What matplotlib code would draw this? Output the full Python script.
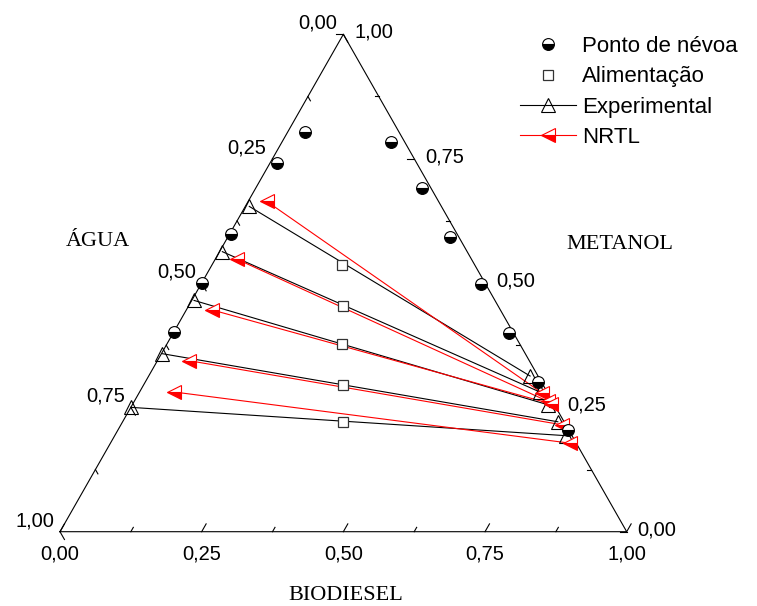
import numpy as np
import matplotlib
matplotlib.use("Agg")
import matplotlib.pyplot as plt
from matplotlib.lines import Line2D
from matplotlib.transforms import offset_copy

# Mass fractions; water = 1 - biodiesel - metanol
cloud_biodiesel = [0.030, 0.012, 0.002, 0.001, 0.000,
                   0.193, 0.294, 0.392, 0.494, 0.593, 0.693, 0.794]
cloud_metanol = [0.804, 0.741, 0.598, 0.500, 0.401,
                 0.783, 0.690, 0.593, 0.498, 0.399, 0.301, 0.205]

feed_biodiesel = [0.230, 0.272, 0.310, 0.352, 0.389]
feed_metanol = [0.537, 0.454, 0.377, 0.295, 0.221]

# Experimental tie lines: aqueous phase / biodiesel phase
exp_aq_biodiesel = [0.007, 0.005, 0.004, 0.001, 0.000]
exp_aq_metanol = [0.654, 0.563, 0.465, 0.358, 0.250]
exp_org_biodiesel = [0.673, 0.706, 0.734, 0.768, 0.797]
exp_org_metanol = [0.313, 0.281, 0.255, 0.221, 0.193]

# NRTL tie lines
nrtl_aq_biodiesel = [0.033, 0.038, 0.045, 0.055, 0.060]
nrtl_aq_metanol = [0.664, 0.548, 0.446, 0.344, 0.281]
nrtl_org_biodiesel = [0.711, 0.730, 0.738, 0.778, 0.811]
nrtl_org_metanol = [0.279, 0.262, 0.257, 0.215, 0.178]

tick_values = [0.0, 0.125, 0.25, 0.375, 0.5, 0.625, 0.75, 0.875, 1.0]
tick_labels = {0.0: "0,00", 0.25: "0,25", 0.5: "0,50", 0.75: "0,75", 1.0: "1,00"}

W, H = 757, 606
PX_X, PX_Y = 566.7, 497.4  # triangle size in pixels

plt.rcParams['font.family'] = ['Liberation Sans', 'DejaVu Sans']
fig = plt.figure(figsize=(W / 100, H / 100), dpi=100)
ax = fig.add_axes([60 / W, (H - 531.7) / H, PX_X / W, PX_Y / H])
ax.set_xlim(0, 1)
ax.set_ylim(0, 1)
ax.axis('off')


def tern(b, m):
    b = np.asarray(b, float)
    m = np.asarray(m, float)
    return b + m / 2, m


# triangle frame
ax.plot([0, 1, 0.5, 0], [0, 0, 1, 0], color='k', lw=0.8, clip_on=False,
        solid_joinstyle='miter')

# edge directions in pixel space (unit vectors)
left_dir = np.array([PX_X * 0.5, PX_Y]) / np.hypot(PX_X * 0.5, PX_Y)
right_down = np.array([PX_X * 0.5, -PX_Y]) / np.hypot(PX_X * 0.5, PX_Y)

tick_kw = dict(color='k', lw=0.8, clip_on=False)
for t in tick_values:
    L = 9 if t in tick_labels else 5
    # bottom axis (biodiesel), ticks parallel to the left edge
    x0, y0 = t, 0.0
    ax.plot([x0, x0 + L * left_dir[0] / PX_X], [y0, y0 + L * left_dir[1] / PX_Y], **tick_kw)
    # left axis (água), ticks parallel to the right edge
    m = 1 - t
    x0, y0 = m / 2, m
    ax.plot([x0, x0 + L * right_down[0] / PX_X], [y0, y0 + L * right_down[1] / PX_Y], **tick_kw)
    # right axis (metanol), horizontal ticks
    x0, y0 = 1 - t / 2, t
    ax.plot([x0, x0 - L * 0.8 / PX_X], [y0, y0], **tick_kw)

lab_fs = 14.5
for t, s in tick_labels.items():
    tr = offset_copy(ax.transData, fig=fig, x=0, y=-22, units='dots')
    ax.text(t, 0, s, transform=tr, ha='center', va='center', fontsize=lab_fs)
    m = 1 - t
    tr = offset_copy(ax.transData, fig=fig, x=-6, y=11, units='dots')
    ax.text(m / 2, m, s, transform=tr, ha='right', va='center', fontsize=lab_fs)
    tr = offset_copy(ax.transData, fig=fig, x=11, y=2, units='dots')
    ax.text(1 - t / 2, t, s, transform=tr, ha='left', va='center', fontsize=lab_fs)

serif = ['Liberation Serif', 'DejaVu Serif']
fig.text(98 / W, 1 - 246 / H, "ÁGUA", ha='center', va='baseline', fontsize=16, family=serif)
fig.text(620 / W, 1 - 249 / H, "METANOL", ha='center', va='baseline', fontsize=16, family=serif)
fig.text(346 / W, 1 - 600 / H, "BIODIESEL", ha='center', va='baseline', fontsize=16, family=serif)

# tie lines
for ba, ma, bo, mo in zip(exp_aq_biodiesel, exp_aq_metanol, exp_org_biodiesel, exp_org_metanol):
    x, y = tern([ba, bo], [ma, mo])
    ax.plot(x, y, color='k', lw=0.8, clip_on=False, zorder=2)
for ba, ma, bo, mo in zip(nrtl_aq_biodiesel, nrtl_aq_metanol, nrtl_org_biodiesel, nrtl_org_metanol):
    x, y = tern([ba, bo], [ma, mo])
    ax.plot(x, y, color='red', lw=0.8, clip_on=False, zorder=3)

exp_style = dict(ls='none', marker='^', ms=10, mfc='none', mec='k', mew=0.8)
nrtl_style = dict(ls='none', marker='<', ms=10, fillstyle='bottom', mfc='red',
                  markerfacecoloralt='white', mec='red', mew=0.8)
cloud_style = dict(ls='none', marker='o', ms=8.5, fillstyle='bottom', mfc='k',
                   markerfacecoloralt='white', mec='k', mew=0.8)
feed_style = dict(ls='none', marker='s', ms=6.5, mfc='white', mec='#333333', mew=0.9)

x, y = tern(exp_aq_biodiesel + exp_org_biodiesel, exp_aq_metanol + exp_org_metanol)
ax.plot(x, y, clip_on=False, zorder=4, **exp_style)
x, y = tern(nrtl_aq_biodiesel + nrtl_org_biodiesel, nrtl_aq_metanol + nrtl_org_metanol)
ax.plot(x, y, clip_on=False, zorder=5, **nrtl_style)
x, y = tern(cloud_biodiesel, cloud_metanol)
ax.plot(x, y, clip_on=False, zorder=6, **cloud_style)
x, y = tern(feed_biodiesel, feed_metanol)
ax.plot(x, y, clip_on=False, zorder=6, **feed_style)

handles = [
    Line2D([], [], **cloud_style),
    Line2D([], [], **feed_style),
    Line2D([], [], color='k', lw=0.8, **{k: v for k, v in exp_style.items() if k != 'ls'}),
    Line2D([], [], color='red', lw=0.8, **{k: v for k, v in nrtl_style.items() if k != 'ls'}),
]
labels = ["Ponto de névoa", "Alimentação", "Experimental", "NRTL"]
fig.legend(handles, labels, loc='upper left', bbox_to_anchor=(520 / W, 1 - 36 / H),
           bbox_transform=fig.transFigure, frameon=False, fontsize=16,
           borderpad=0, borderaxespad=0, handlelength=2.5, handletextpad=0.3,
           labelspacing=0.42, numpoints=1)

fig.savefig("out.png", dpi=100)
